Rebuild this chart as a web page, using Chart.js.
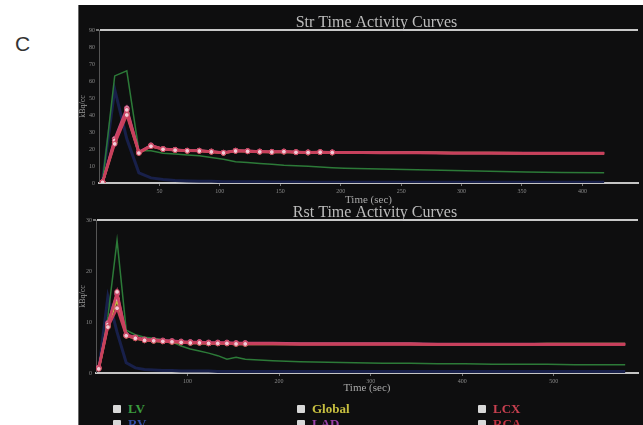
<!DOCTYPE html>
<html>
<head>
<meta charset="utf-8">
<script src="https://cdn.jsdelivr.net/npm/chart.js@4/dist/chart.umd.min.js"></script>
<style>
  html, body { margin: 0; padding: 0; width: 643px; height: 425px; overflow: hidden; background: #fff; }
  #tag { position: absolute; left: 15px; top: 32px; font: 21px "Liberation Sans", Arial, sans-serif; color: #333; }
  #panel { position: absolute; left: 78px; top: 5px; width: 565px; height: 420px; background: #0e0e0f;
           border-left: 1px solid #6a6a6a; box-sizing: border-box; }
  canvas { position: absolute; left: 78px; }
  #c1 { top: 5px; }
  #c2 { top: 199px; }
  .lg { position: absolute; font: bold 13px "Liberation Serif", "DejaVu Serif", serif; line-height: 13px; white-space: nowrap; }
  .lg .box { display: inline-block; width: 8px; height: 8px; background: #d8d8d8; border-radius: 1px;
             vertical-align: 0px; margin-right: 7px; }
</style>
</head>
<body>
<div id="tag">C</div>
<div id="panel"></div>
<canvas id="c1" width="565" height="202"></canvas>
<canvas id="c2" width="565" height="196"></canvas>
<div id="legend"></div>

<script>
// ---- Stress curves (time in sec, activity in kBq/cc) ----
const strTimes  = [3, 13, 23, 33, 43, 53, 63, 73, 83, 93, 103, 113, 123, 133, 143, 153, 163, 173, 183, 193, 203, 233, 263, 293, 323, 353, 383, 418];
const strLV     = [1, 63, 66, 19, 19, 17.5, 17, 16.5, 16, 15, 14, 12.5, 12, 11.5, 11, 10.5, 10.2, 9.8, 9.4, 9, 8.7, 8.2, 7.8, 7.3, 6.9, 6.5, 6.2, 6];
const strRV     = [2, 55, 26, 6, 3, 2, 1.5, 1.2, 1, 1, 0.8, 0.8, 0.7, 0.7, 0.6, 0.6, 0.6, 0.5, 0.5, 0.5, 0.5, 0.5, 0.5, 0.5, 0.5, 0.5, 0.5, 0.5];
const strGlobal = [0.5, 24, 41, 17.8, 21.8, 19.9, 19.4, 18.9, 18.9, 18.4, 17.7, 18.9, 18.7, 18.4, 18.2, 18.4, 18.1, 17.9, 18.1, 17.9, 17.9, 17.8, 17.9, 17.7, 17.6, 17.5, 17.5, 17.5];
const strLAD    = [0.5, 26, 44, 18.2, 22.2, 20.1, 19.6, 19.1, 19.1, 18.6, 17.9, 19.1, 18.9, 18.6, 18.4, 18.6, 18.3, 18.1, 18.3, 18.1, 18.1, 17.9, 17.9, 17.7, 17.7, 17.6, 17.6, 17.6];
const strLCX    = [0.6, 25, 43, 18, 22, 20, 19.5, 19, 19, 18.5, 17.8, 19, 18.8, 18.5, 18.3, 18.5, 18.2, 18, 18.2, 18, 18, 17.8, 17.8, 17.6, 17.6, 17.5, 17.5, 17.5];
const strRCA    = [0.4, 23, 40, 17.6, 21.6, 19.8, 19.3, 18.9, 18.8, 18.3, 17.7, 18.8, 18.6, 18.3, 18.2, 18.4, 18, 17.9, 18.1, 17.9, 17.9, 17.7, 17.7, 17.5, 17.5, 17.4, 17.4, 17.4];

// ---- Rest curves ----
const rstTimes  = [3, 13, 23, 33, 43, 53, 63, 73, 83, 93, 103, 113, 123, 133, 143, 153, 163, 193, 223, 253, 283, 313, 343, 373, 403, 433, 463, 493, 523, 553, 578];
const rstLV     = [0.5, 11, 26, 8.4, 7.5, 7, 6.8, 6.5, 6.1, 5.3, 4.7, 4.3, 3.9, 3.4, 2.7, 3.1, 2.7, 2.4, 2.2, 2.1, 2.0, 1.9, 1.9, 1.8, 1.8, 1.7, 1.7, 1.7, 1.6, 1.6, 1.6];
const rstRV     = [0.5, 15, 8, 2, 1, 0.7, 0.6, 0.5, 0.5, 0.4, 0.4, 0.4, 0.4, 0.3, 0.3, 0.3, 0.3, 0.3, 0.3, 0.3, 0.3, 0.3, 0.3, 0.3, 0.3, 0.3, 0.3, 0.3, 0.3, 0.3, 0.3];
const rstGlobal = [0.9, 9.2, 14.5, 7.3, 6.8, 6.4, 6.3, 6.2, 6.1, 6.0, 5.9, 5.9, 5.8, 5.8, 5.8, 5.7, 5.7, 5.7, 5.7, 5.7, 5.7, 5.7, 5.7, 5.6, 5.6, 5.6, 5.6, 5.7, 5.7, 5.7, 5.7];
const rstLAD    = [1.1, 9.8, 15.5, 7.5, 7.0, 6.6, 6.5, 6.4, 6.3, 6.2, 6.1, 6.1, 6.0, 6.0, 6.0, 5.9, 5.9, 5.9, 5.8, 5.8, 5.8, 5.8, 5.8, 5.7, 5.7, 5.7, 5.7, 5.7, 5.7, 5.7, 5.7];
const rstLCX    = [1, 9.5, 15.9, 7.4, 6.9, 6.5, 6.4, 6.3, 6.2, 6.1, 6.0, 6.0, 5.9, 5.9, 5.9, 5.8, 5.8, 5.8, 5.7, 5.7, 5.7, 5.7, 5.7, 5.6, 5.6, 5.6, 5.6, 5.6, 5.6, 5.6, 5.6];
const rstRCA    = [0.8, 9.0, 12.7, 7.3, 6.8, 6.4, 6.3, 6.2, 6.1, 6.0, 5.9, 5.9, 5.8, 5.8, 5.8, 5.7, 5.7, 5.7, 5.6, 5.6, 5.6, 5.6, 5.6, 5.6, 5.6, 5.6, 5.6, 5.6, 5.6, 5.6, 5.6];

// ---- Axis ticks ----
const strYTicks = [0, 10, 20, 30, 40, 50, 60, 70, 80, 90];
const rstYTicks = [0, 10, 20, 30];
const strXTicks = [50, 100, 150, 200, 250, 300, 350, 400];
const rstXTicks = [100, 200, 300, 400, 500];

// ---- Legend ----
const seriesNames  = ['LV', 'Global', 'LCX', 'RV', 'LAD', 'RCA'];
const seriesColors = { LV: '#2c7a38', RV: '#18204a', Global: '#c8bc40', LAD: '#c04a7c', LCX: '#cc4262', RCA: '#c8405c' };
const legendText   = { LV: '#3a9a3e', RV: '#3450a8', Global: '#c8c040', LAD: '#9a40a8', LCX: '#c84050', RCA: '#c03040' };

const toXY = (t, v) => t.map((x, i) => ({ x, y: v[i] }));

// Datasets listed first are painted on top in Chart.js, so the regional
// curves come first and the blood-pool curves go underneath.
function curves(times, lv, rv, glob, lad, lcx, rca, markersUntil) {
  const markR = c => (times[c.dataIndex] <= markersUntil ? 2.4 : 0);
  const region = (label, vals) => ({
    label, data: toXY(times, vals),
    borderColor: seriesColors[label], borderWidth: 2.5,
    pointRadius: markR, pointBorderWidth: 1,
    pointBackgroundColor: '#f2ccd6', pointBorderColor: seriesColors[label]
  });
  return [
    region('RCA', rca),
    region('LCX', lcx),
    region('LAD', lad),
    region('Global', glob),
    { label: 'LV', data: toXY(times, lv), borderColor: seriesColors.LV, borderWidth: 1.5, pointRadius: 0 },
    { label: 'RV', data: toXY(times, rv), borderColor: seriesColors.RV, borderWidth: 3, pointRadius: 0 }
  ];
}

// Chart heading drawn just above the top frame line
const headingPlugin = {
  id: 'heading',
  afterDraw(chart, args, opts) {
    const { ctx, chartArea } = chart;
    ctx.save();
    ctx.font = '16px "Liberation Serif", "DejaVu Serif", serif';
    ctx.fillStyle = '#bcbcbc';
    ctx.textAlign = 'center';
    ctx.textBaseline = 'middle';
    ctx.fillText(opts.text, (chartArea.left + chartArea.right) / 2 + 8, chartArea.top - 7);
    ctx.restore();
  }
};

function options(title, yTicks, xTicks, xMax, yWidth, topPad, xHeight) {
  const yMax = yTicks[yTicks.length - 1];
  return {
    responsive: false, animation: false,
    layout: { padding: { top: topPad, right: 0, left: 0, bottom: 0 } },
    plugins: { legend: { display: false }, tooltip: { enabled: false }, heading: { text: title } },
    elements: { line: { tension: 0 } },
    scales: {
      x: {
        type: 'linear', min: 0, max: xMax,
        afterBuildTicks: s => { s.ticks = xTicks.map(v => ({ value: v })); },
        afterFit: s => { s.height = xHeight; },
        border: { color: '#c4c4c4', width: 2 },
        grid: { display: true, drawOnChartArea: false, tickLength: 3, tickColor: '#777' },
        ticks: { color: '#8a8a8a', font: { size: 6, family: 'Liberation Serif' }, padding: 2, maxRotation: 0 },
        title: { display: true, text: 'Time (sec)', color: '#a8a8a8', padding: { top: 0, bottom: 0 },
                 font: { size: 11, family: '"Liberation Serif", serif' } }
      },
      y: {
        min: 0, max: yMax,
        afterBuildTicks: s => { s.ticks = yTicks.map(v => ({ value: v })); },
        afterFit: s => { s.width = yWidth; },
        border: { color: '#555', width: 1 },
        grid: {
          drawOnChartArea: true, tickLength: 3, tickColor: '#777',
          color: c => (c.tick && c.tick.value === yMax ? '#c8c8c8' : 'rgba(0,0,0,0)'),
          lineWidth: c => (c.tick && c.tick.value === yMax ? 2 : 0)
        },
        ticks: { color: '#8a8a8a', font: { size: 6, family: 'Liberation Serif' }, padding: 1 },
        title: { display: true, text: 'kBq/cc', color: '#9a9a9a', padding: 0,
                 font: { size: 8, family: '"Liberation Serif", serif' } }
      }
    }
  };
}

new Chart(document.getElementById('c1'), {
  type: 'line',
  data: { datasets: curves(strTimes, strLV, strRV, strGlobal, strLAD, strLCX, strRCA, 200) },
  options: options('Str Time Activity Curves', strYTicks, strXTicks, 446, 21, 25, 24),
  plugins: [headingPlugin]
});

new Chart(document.getElementById('c2'), {
  type: 'line',
  data: { datasets: curves(rstTimes, rstLV, rstRV, rstGlobal, rstLAD, rstLCX, rstRCA, 165) },
  options: options('Rst Time Activity Curves', rstYTicks, rstXTicks, 592, 18, 21, 22),
  plugins: [headingPlugin]
});

// Checkbox legend, three columns by two rows
const legend = document.getElementById('legend');
const colX = [113, 297, 478];
const rowY = [402, 417];
seriesNames.forEach((name, i) => {
  const el = document.createElement('div');
  el.className = 'lg';
  el.style.left = colX[i % 3] + 'px';
  el.style.top = rowY[Math.floor(i / 3)] + 'px';
  el.style.color = legendText[name];
  el.innerHTML = '<span class="box"></span>' + name;
  legend.appendChild(el);
});
</script>
</body>
</html>
